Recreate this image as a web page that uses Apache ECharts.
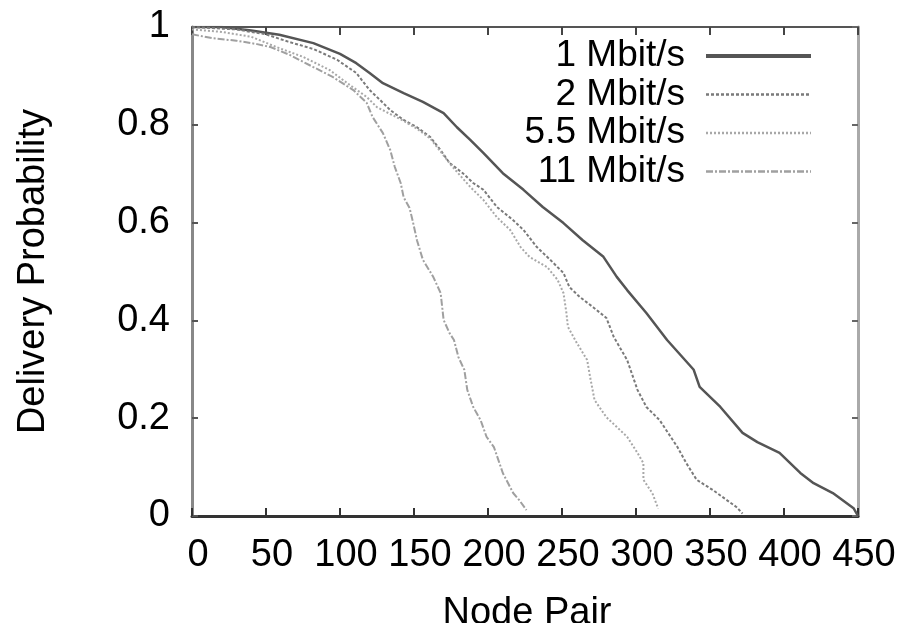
<!DOCTYPE html>
<html>
<head>
<meta charset="utf-8">
<script src="https://cdn.jsdelivr.net/npm/echarts@6/dist/echarts.min.js"></script>
<style>
html,body{margin:0;padding:0;background:#fff;}
#c{width:897px;height:623px;}
</style>
</head>
<body>
<div id="c"></div>
<script>
// ---- data ----
const seriesNames = ['1 Mbit/s', '2 Mbit/s', '5.5 Mbit/s', '11 Mbit/s'];
const xTicks = [0, 50, 100, 150, 200, 250, 300, 350, 400, 450];
const yTicks = [0, 0.2, 0.4, 0.6, 0.8, 1];

const x1 = [0, 20, 40, 59, 82, 100, 111, 120, 129, 143, 156, 170, 179, 188, 197, 210, 224, 237, 251, 264, 278, 287, 294, 307, 321, 339, 343, 357, 372, 382, 397, 411, 420, 433, 447, 450];
const y1 = [1, 1, 0.993, 0.984, 0.967, 0.945, 0.926, 0.906, 0.885, 0.865, 0.847, 0.824, 0.795, 0.769, 0.742, 0.701, 0.667, 0.632, 0.599, 0.564, 0.53, 0.489, 0.462, 0.415, 0.36, 0.299, 0.264, 0.223, 0.17, 0.151, 0.129, 0.088, 0.067, 0.047, 0.016, 0];

const x2 = [0, 30, 50, 65, 82, 98, 111, 120, 127, 134, 143, 152, 161, 168, 174, 183, 190, 197, 206, 217, 224, 233, 242, 251, 255, 262, 271, 280, 285, 294, 301, 307, 316, 328, 334, 341, 352, 368, 372];
const y2 = [1, 0.995, 0.985, 0.97, 0.955, 0.933, 0.906, 0.871, 0.851, 0.83, 0.81, 0.795, 0.775, 0.748, 0.722, 0.701, 0.681, 0.667, 0.632, 0.605, 0.585, 0.55, 0.524, 0.497, 0.468, 0.448, 0.427, 0.405, 0.366, 0.319, 0.258, 0.223, 0.196, 0.141, 0.108, 0.074, 0.053, 0.018, 0.005];

const x55 = [0, 20, 40, 57, 75, 93, 105, 118, 125, 134, 143, 152, 161, 168, 176, 188, 197, 206, 215, 222, 228, 240, 247, 251, 253, 254, 260, 267, 269, 272, 280, 287, 294, 301, 305, 305, 311, 315];
const y55 = [0.995, 0.99, 0.98, 0.959, 0.939, 0.912, 0.885, 0.857, 0.836, 0.822, 0.808, 0.792, 0.772, 0.745, 0.714, 0.673, 0.646, 0.611, 0.585, 0.55, 0.53, 0.509, 0.483, 0.456, 0.415, 0.387, 0.354, 0.319, 0.284, 0.237, 0.202, 0.182, 0.162, 0.129, 0.108, 0.074, 0.047, 0.015];

const x11 = [0, 14, 30, 44, 53, 66, 82, 95, 109, 118, 122, 129, 134, 137, 141, 143, 147, 149, 152, 156, 163, 168, 170, 174, 177, 180, 184, 186, 190, 195, 199, 204, 210, 217, 221, 226];
const y11 = [0.985, 0.977, 0.972, 0.965, 0.959, 0.943, 0.918, 0.898, 0.871, 0.845, 0.816, 0.783, 0.748, 0.714, 0.681, 0.652, 0.63, 0.605, 0.564, 0.524, 0.489, 0.456, 0.401, 0.374, 0.36, 0.325, 0.299, 0.258, 0.223, 0.196, 0.162, 0.141, 0.088, 0.047, 0.033, 0.012];

const xs = [x1, x2, x55, x11];
const ys = [y1, y2, y55, y11];

// ---- styles ----
const lineColors = ['#555555', '#7a7a7a', '#a8a8a8', '#a0a0a0'];
const lineWidths = [2.5, 2, 2, 2];
const lineTypes = ['solid', [3, 2], [2, 2], [7, 2, 2, 2]];
const legendWidths = [4, 2.5, 2.5, 2.5];
const font = 'Liberation Sans, Arial, sans-serif';

const chart = echarts.init(document.getElementById('c'), null, {renderer: 'canvas'});

const series = seriesNames.map((name, i) => ({
  name: name,
  type: 'line',
  xAxisIndex: 0,
  yAxisIndex: 0,
  data: xs[i].map((x, j) => [x, ys[i][j]]),
  symbol: 'none',
  showSymbol: false,
  lineStyle: {color: lineColors[i], width: lineWidths[i], type: lineTypes[i]},
  itemStyle: {color: lineColors[i]},
  animation: false,
  z: 3
}));

const axisBase = {
  type: 'value',
  splitLine: {show: false},
  axisLabel: {show: false},
};

chart.setOption({
  animation: false,
  backgroundColor: '#fff',
  grid: {left: 192, right: 39, top: 27, bottom: 107, containLabel: false, outerBoundsMode: 'none'},
  legend: {
    orient: 'vertical',
    right: 84,
    top: 37.5,
    align: 'right',
    padding: 0,
    itemGap: 1.5,
    itemWidth: 105,
    itemHeight: 14,
    data: seriesNames.map((n, i) => ({name: n, lineStyle: {width: legendWidths[i]}})),
    itemStyle: {opacity: 0},
    textStyle: {fontSize: 37, fontFamily: font, color: '#000', lineHeight: 37, padding: [0, 16, 0, 0]}
  },
  xAxis: [
    Object.assign({}, axisBase, {
      position: 'bottom',
      min: 0, max: 450, interval: 50,
      name: 'Node Pair',
      nameLocation: 'middle',
      nameGap: 79,
      nameTextStyle: {fontSize: 38, fontFamily: font, color: '#000', padding: [0, 0, 0, 4]},
      axisLine: {show: true, onZero: false, lineStyle: {color: '#333', width: 3}},
      axisTick: {show: true, inside: true, length: 8, lineStyle: {color: '#333', width: 2}},
      axisLabel: {show: true, fontSize: 38, fontFamily: font, color: '#000', margin: 21,
        padding: [0, 0, 0, 12],
        formatter: v => String(v)}
    }),
    Object.assign({}, axisBase, {
      position: 'top',
      min: 0, max: 450, interval: 50,
      axisLine: {show: true, onZero: false, lineStyle: {color: '#555', width: 2}},
      axisTick: {show: true, inside: true, length: 8, lineStyle: {color: '#444', width: 2}}
    })
  ],
  yAxis: [
    Object.assign({}, axisBase, {
      position: 'left',
      min: 0, max: 1, interval: 0.2,
      name: 'Delivery Probability',
      nameLocation: 'middle',
      nameGap: 139,
      nameTextStyle: {fontSize: 38, fontFamily: font, color: '#000'},
      axisLine: {show: true, onZero: false, lineStyle: {color: '#888', width: 3}},
      axisTick: {show: true, inside: true, length: 6, lineStyle: {color: '#555', width: 2}},
      axisLabel: {show: true, fontSize: 38, fontFamily: font, color: '#000', margin: 22,
        formatter: v => (yTicks.indexOf(Math.round(v * 10) / 10) >= 0 ? String(Math.round(v * 10) / 10) : '')}
    }),
    Object.assign({}, axisBase, {
      position: 'right',
      min: 0, max: 1, interval: 0.2,
      axisLine: {show: true, onZero: false, lineStyle: {color: '#aaa', width: 3}},
      axisTick: {show: true, inside: true, length: 6, lineStyle: {color: '#666', width: 2}}
    })
  ],
  series: series
});
</script>
</body>
</html>
